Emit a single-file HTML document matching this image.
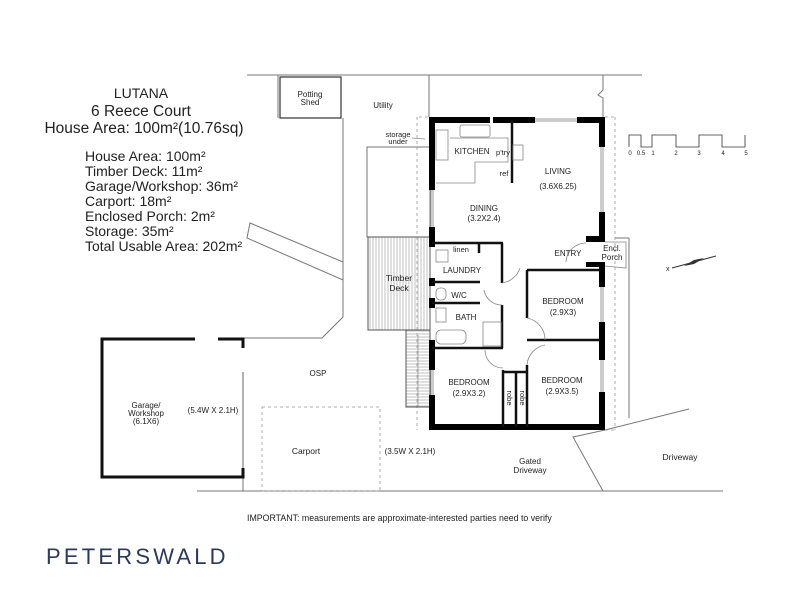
<!DOCTYPE html>
<html><head><meta charset="utf-8"><style>
html,body{margin:0;padding:0;background:#fff;}
svg{display:block;}
text{font-family:"Liberation Sans",sans-serif;fill:#222;}
</style></head><body>
<svg width="800" height="600" viewBox="0 0 800 600" xmlns="http://www.w3.org/2000/svg">
<defs>
<pattern id="vh" width="3" height="10" patternUnits="userSpaceOnUse"><line x1="1" y1="0" x2="1" y2="10" stroke="#999" stroke-width="0.6"/></pattern>
<pattern id="hh" width="10" height="3" patternUnits="userSpaceOnUse"><line x1="0" y1="1" x2="10" y2="1" stroke="#999" stroke-width="0.6"/></pattern>
</defs>
<rect width="800" height="600" fill="#fff"/>

<g text-anchor="middle">
<text x="141" y="98" font-size="14">LUTANA</text>
<text x="141" y="116" font-size="15.5">6 Reece Court</text>
<text x="144" y="133" font-size="15.5">House Area: 100m²(10.76sq)</text>
</g>
<g font-size="14">
<text x="85" y="161">House Area: 100m²</text>
<text x="85" y="176">Timber Deck: 11m²</text>
<text x="85" y="191">Garage/Workshop: 36m²</text>
<text x="85" y="206">Carport: 18m²</text>
<text x="85" y="221">Enclosed Porch: 2m²</text>
<text x="85" y="236">Storage: 35m²</text>
<text x="85" y="251">Total Usable Area: 202m²</text>
</g>

<g stroke="#777" stroke-width="1" fill="none">
<line x1="247" y1="75" x2="642" y2="75"/>
<polyline points="603,75 603,90 598,95 603,98 603,117"/>
<line x1="278" y1="75" x2="278" y2="118"/>
<line x1="343" y1="118" x2="343" y2="265"/>
<polyline points="343,280 343,317 322,338 243,338"/>
<polygon points="250,223 343,262 343,280 247,238"/>
<line x1="429" y1="75" x2="429" y2="117"/>
<line x1="197" y1="491" x2="723" y2="491"/>
<line x1="243" y1="380" x2="243" y2="491"/>
<rect x="367" y="147" width="63" height="90"/>
<line x1="629" y1="238" x2="629" y2="418"/>
<line x1="615" y1="238" x2="629" y2="238"/>
<polyline points="603,491 573,437 605,430 689,409"/>
</g>
<g stroke="#999" stroke-width="0.8" fill="none" stroke-dasharray="3,3">
<line x1="417" y1="117" x2="417" y2="430"/>
<line x1="615" y1="117" x2="615" y2="430"/>
<line x1="605" y1="117" x2="615" y2="117"/>
<line x1="605" y1="430" x2="615" y2="430"/>
<line x1="428" y1="117" x2="417" y2="117"/>
<rect x="262" y="407" width="118" height="84"/>
</g>

<rect x="280" y="77" width="61" height="41" fill="none" stroke="#333" stroke-width="1.2"/>
<g text-anchor="middle" font-size="8"><text x="310" y="97">Potting</text><text x="310" y="105">Shed</text></g>
<text x="383" y="108" font-size="8" text-anchor="middle">Utility</text>
<g text-anchor="middle" font-size="7.5"><text x="398" y="137">storage</text><text x="398" y="144">under</text></g>
<line x1="412" y1="138" x2="425" y2="139" stroke="#888" stroke-width="0.7"/>

<rect x="368" y="237" width="62" height="93" fill="url(#vh)" stroke="#555" stroke-width="1"/>
<g text-anchor="middle" font-size="8.5"><text x="399" y="281">Timber</text><text x="399" y="291">Deck</text></g>
<rect x="406" y="330" width="24" height="77" fill="url(#hh)" stroke="#555" stroke-width="1"/>
<line x1="418" y1="335" x2="418" y2="407" stroke="#777" stroke-width="0.6"/>

<g fill="none" stroke="#111" stroke-width="3">
<polyline points="195,339 102,339 102,477 243,477 243,468"/>
<polyline points="218,339 243,339 243,348"/>
</g>
<line x1="243" y1="372" x2="243" y2="468" stroke="#999" stroke-width="1.5"/>
<g text-anchor="middle" font-size="8"><text x="146" y="408">Garage/</text><text x="146" y="416">Workshop</text><text x="146" y="424">(6.1X6)</text></g>
<text x="213" y="413" font-size="8" text-anchor="middle">(5.4W X 2.1H)</text>
<text x="318" y="376" font-size="8" text-anchor="middle">OSP</text>
<text x="306" y="454" font-size="8.5" text-anchor="middle">Carport</text>
<text x="410" y="454" font-size="8" text-anchor="middle">(3.5W X 2.1H)</text>
<g text-anchor="middle" font-size="8"><text x="530" y="464">Gated</text><text x="530" y="473">Driveway</text></g>
<text x="680" y="460" font-size="8.5" text-anchor="middle">Driveway</text>

<g fill="#000">
<rect x="429" y="117" width="61" height="6"/>
<rect x="493" y="117" width="42" height="6"/>
<rect x="577" y="117" width="28" height="6"/>
<rect x="599" y="117" width="6" height="30"/>
<rect x="599" y="212" width="6" height="30"/>
<rect x="586" y="236" width="19" height="6"/>
<rect x="586" y="262" width="19" height="5"/>
<rect x="599" y="262" width="6" height="25"/>
<rect x="599" y="322" width="6" height="38"/>
<rect x="599" y="392" width="6" height="38"/>
<rect x="429" y="424" width="176" height="6"/>
<rect x="429" y="117" width="6" height="73"/>
<rect x="429" y="227" width="6" height="20"/>
<rect x="429" y="278" width="6" height="8"/>
<rect x="429" y="298" width="6" height="10"/>
<rect x="429" y="340" width="6" height="30"/>
<rect x="429" y="395" width="6" height="35"/>
</g>
<g stroke="#999" stroke-width="1" fill="none">
<line x1="431" y1="190" x2="431" y2="227"/><line x1="433" y1="190" x2="433" y2="227"/>
<line x1="535" y1="119" x2="577" y2="119"/><line x1="535" y1="121" x2="577" y2="121"/>
<line x1="601" y1="147" x2="601" y2="212"/><line x1="603" y1="147" x2="603" y2="212"/>
<line x1="601" y1="287" x2="601" y2="322"/><line x1="603" y1="287" x2="603" y2="322"/>
<line x1="601" y1="360" x2="601" y2="392"/><line x1="603" y1="360" x2="603" y2="392"/>
<line x1="431" y1="370" x2="431" y2="395"/><line x1="433" y1="370" x2="433" y2="395"/>
</g>
<g stroke="#111" stroke-width="2.5" fill="none">
<line x1="512" y1="120" x2="512" y2="183"/>
<line x1="432" y1="243" x2="503" y2="243"/>
<line x1="502" y1="243" x2="502" y2="283"/>
<line x1="432" y1="282" x2="480" y2="282"/>
<line x1="432" y1="303" x2="480" y2="303"/>
<line x1="502" y1="305" x2="502" y2="348"/>
<line x1="432" y1="348" x2="503" y2="348"/>
<line x1="527" y1="270" x2="527" y2="318"/>
<line x1="527" y1="270" x2="600" y2="270"/>
<line x1="527" y1="340" x2="600" y2="340"/>
<line x1="527" y1="365" x2="527" y2="427"/>
<line x1="503" y1="370" x2="503" y2="427"/>
<line x1="516" y1="372" x2="516" y2="427"/>
<line x1="503" y1="372" x2="527" y2="372"/>
<line x1="479" y1="243" x2="479" y2="253"/>
</g>
<g stroke="#888" stroke-width="0.8" fill="none">
<rect x="460" y="125" width="30" height="12" rx="2"/>
<rect x="436" y="130" width="12" height="30"/>
<polyline points="450,138 508,138 508,162 475,162 475,183 436,183"/>
<rect x="513" y="145" width="10" height="15"/>
<path d="M502,283 A22,22 0 0 0 520,268"/>
<path d="M502,305 A18,18 0 0 1 484,290"/>
<path d="M527,318 A22,22 0 0 1 545,340"/>
<path d="M527,365 A22,22 0 0 1 545,345"/>
<path d="M485,350 A18,18 0 0 0 503,368"/>
<path d="M586,243 A20,20 0 0 0 566,262"/>
<rect x="436" y="330" width="30" height="14" rx="5"/>
<rect x="483" y="322" width="18" height="24"/>
<rect x="436" y="288" width="10" height="12" rx="4"/>
<rect x="436" y="250" width="12" height="12"/>
<polyline points="605,242 626,242 626,268 605,266"/>
<rect x="436" y="308" width="10" height="14"/>
</g>

<g text-anchor="middle" font-size="8">
<text x="472" y="154">KITCHEN</text>
<text x="503" y="155" font-size="7.5">p'try</text>
<text x="504" y="176" font-size="7.5">ref</text>
<text x="558" y="174">LIVING</text>
<text x="558" y="189">(3.6X6.25)</text>
<text x="484" y="211">DINING</text>
<text x="484" y="221">(3.2X2.4)</text>
<text x="461" y="252" font-size="7.5">linen</text>
<text x="462" y="273">LAUNDRY</text>
<text x="459" y="298">W/C</text>
<text x="466" y="320">BATH</text>
<text x="568" y="256">ENTRY</text>
<text x="612" y="251">Encl.</text>
<text x="612" y="260">Porch</text>
<text x="563" y="304">BEDROOM</text>
<text x="563" y="315">(2.9X3)</text>
<text x="562" y="383">BEDROOM</text>
<text x="562" y="394">(2.9X3.5)</text>
<text x="469" y="385">BEDROOM</text>
<text x="469" y="396">(2.9X3.2)</text>
<text transform="translate(507,398) rotate(90)" font-size="7.5">robe</text>
<text transform="translate(520,398) rotate(90)" font-size="7.5">robe</text>
</g>

<polyline points="629,147 629,135 641,135 641,147 652,147 652,135 676,135 676,147 699,147 699,135 722,135 722,147 745,147 745,135" fill="none" stroke="#333" stroke-width="0.8"/>
<g font-size="6" text-anchor="middle">
<text x="630" y="155">0</text><text x="641" y="155">0.5</text><text x="653" y="155">1</text><text x="676" y="155">2</text><text x="699" y="155">3</text><text x="723" y="155">4</text><text x="746" y="155">5</text>
</g>
<line x1="672" y1="268" x2="716" y2="256" stroke="#333" stroke-width="1"/>
<polygon points="684,266 694,260 704,258 694,264" fill="#333"/>
<text x="666" y="271" font-size="7">x</text>

<text x="247" y="521" font-size="8.8" style="fill:#222">IMPORTANT: measurements are approximate-interested parties need to verify</text>
<text x="46" y="564" font-size="22" letter-spacing="3.2" style="fill:#2b3a5a">PETERSWALD</text>
</svg>
</body></html>
